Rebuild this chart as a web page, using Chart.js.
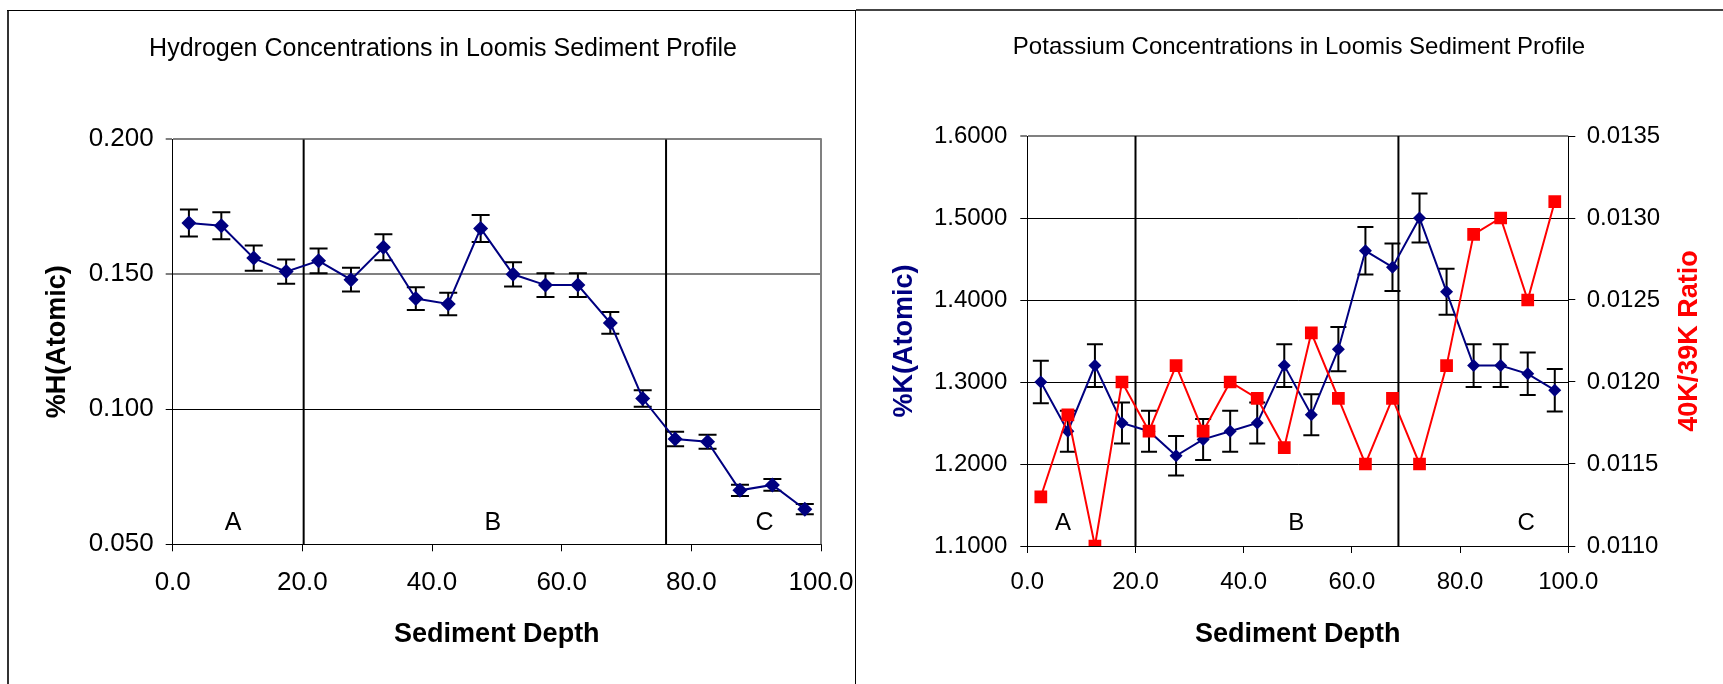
<!DOCTYPE html>
<html>
<head>
<meta charset="utf-8">
<script src="https://cdn.jsdelivr.net/npm/chart.js@4.4.1/dist/chart.umd.min.js"></script>
<style>
body { margin: 0; background: #fff; width: 1723px; height: 684px; overflow: hidden; position: relative; }
.ln { position: absolute; }
canvas { position: absolute; }
</style>
</head>
<body>
<div class="ln" style="left:7px;top:10px;width:2px;height:674px;background:#333"></div>
<div class="ln" style="left:7px;top:10px;width:849px;height:1px;background:#000"></div>
<div class="ln" style="left:855px;top:10px;width:1px;height:674px;background:#000"></div>
<div class="ln" style="left:856px;top:9px;width:867px;height:2px;background:#444"></div>
<canvas id="hChart" width="846" height="673" style="left:9px;top:11px"></canvas>
<canvas id="kChart" width="867" height="673" style="left:856px;top:11px"></canvas>
<script>
// depth of each sample (x axis)
const depth = [2.5, 7.5, 12.5, 17.5, 22.5, 27.5, 32.5, 37.5, 42.5, 47.5,
               52.5, 57.5, 62.5, 67.5, 72.5, 77.5, 82.5, 87.5, 92.5, 97.5];

// hydrogen chart
const hydrogen = [0.169, 0.168, 0.156, 0.151, 0.155, 0.148, 0.160, 0.141, 0.139, 0.167,
                  0.150, 0.146, 0.146, 0.132, 0.104, 0.089, 0.088, 0.070, 0.072, 0.063];
const hydrogenErr = [0.0050, 0.0050, 0.0047, 0.0045, 0.0046, 0.0044, 0.0048, 0.0042, 0.0042, 0.0050,
                     0.0045, 0.0044, 0.0044, 0.0040, 0.0031, 0.0027, 0.0026, 0.0021, 0.0022, 0.0019];
const hTicks = [0.050, 0.100, 0.150, 0.200];
const hBounds = [20.2, 76.1];
const hZoneX = [9.3, 49.4, 91.3];
const hZoneY = 0.058;

// potassium chart
const potassium = [1.30, 1.24, 1.32, 1.25, 1.24, 1.21, 1.23, 1.24, 1.25, 1.32,
                   1.26, 1.34, 1.46, 1.44, 1.50, 1.41, 1.32, 1.32, 1.31, 1.29];
const potassiumErr = [0.026, 0.025, 0.026, 0.025, 0.025, 0.024, 0.025, 0.025, 0.025, 0.026,
                      0.025, 0.027, 0.029, 0.029, 0.030, 0.028, 0.026, 0.026, 0.026, 0.026];
const ratio = [0.0113, 0.0118, 0.0110, 0.0120, 0.0117, 0.0121, 0.0117, 0.0120, 0.0119, 0.0116,
               0.0123, 0.0119, 0.0115, 0.0119, 0.0115, 0.0121, 0.0129, 0.0130, 0.0125, 0.0131];
const kTicks = [1.1, 1.2, 1.3, 1.4, 1.5, 1.6];
const rTicks = [0.0110, 0.0115, 0.0120, 0.0125, 0.0130, 0.0135];
const kBounds = [20.0, 68.6];
const kZoneX = [6.6, 49.7, 92.2];
const kZoneY = 1.128;

const depthTicks = [0, 20, 40, 60, 80, 100];
const zoneNames = ['A', 'B', 'C'];

const FONT = '"Liberation Sans", Arial, sans-serif';
const NAVY = '#000080';
const RED = '#ff0000';

function pts(ys) {
    return depth.map((d, i) => ({ x: d, y: ys[i] }));
}

function boundary(x, lo, hi) {
    return {
        data: [{ x: x, y: lo }, { x: x, y: hi }],
        borderColor: '#000', borderWidth: 2, pointRadius: 0, order: 10
    };
}

let errorBars = {
    id: 'errorBars',
    beforeDatasetsDraw(chart) {
        let ctx = chart.ctx;
        chart.data.datasets.forEach(function (ds, i) {
            if (!ds.errors) return;
            let meta = chart.getDatasetMeta(i);
            let ys = chart.scales[meta.yAxisID];
            ctx.save();
            ctx.strokeStyle = '#000';
            ctx.lineWidth = 2;
            meta.data.forEach(function (pt, j) {
                let v = ds.data[j].y, e = ds.errors[j], w = ds.capWidth;
                let top = ys.getPixelForValue(v + e), bot = ys.getPixelForValue(v - e);
                ctx.beginPath();
                ctx.moveTo(pt.x, top); ctx.lineTo(pt.x, bot);
                ctx.moveTo(pt.x - w, top); ctx.lineTo(pt.x + w, top);
                ctx.moveTo(pt.x - w, bot); ctx.lineTo(pt.x + w, bot);
                ctx.stroke();
            });
            ctx.restore();
        });
    }
};

let extras = {
    id: 'extras',
    beforeDatasetsDraw(chart, args, opts) {
        let a = chart.chartArea, ctx = chart.ctx;
        if (opts.rightFrame) {
            ctx.save();
            ctx.strokeStyle = '#808080';
            ctx.lineWidth = 2;
            ctx.beginPath();
            ctx.moveTo(a.right, a.top - 1);
            ctx.lineTo(a.right, a.bottom);
            ctx.stroke();
            ctx.restore();
        }
    },
    afterDatasetsDraw(chart, args, opts) {
        let ctx = chart.ctx;
        ctx.save();
        ctx.fillStyle = '#000';
        ctx.font = opts.zoneSize + 'px ' + FONT;
        ctx.textAlign = 'center';
        ctx.textBaseline = 'middle';
        zoneNames.forEach(function (n, i) {
            ctx.fillText(n, chart.scales.x.getPixelForValue(opts.zoneX[i]), chart.scales.y.getPixelForValue(opts.zoneY));
        });
        ctx.restore();
        if (opts.sideTitle) {
            let s = chart.scales.y2, a = chart.chartArea;
            ctx.save();
            ctx.fillStyle = opts.sideColor;
            ctx.font = 'bold 27px ' + FONT;
            ctx.textAlign = 'center';
            ctx.textBaseline = 'middle';
            ctx.translate(s.right - 33, (a.top + a.bottom) / 2);
            ctx.rotate(-Math.PI / 2);
            ctx.fillText(opts.sideTitle, 0, 0);
            ctx.restore();
        }
    }
};

let depthAxis = function (tickSize, tickPad, height) {
    return {
        type: 'linear', min: depthTicks[0], max: depthTicks[depthTicks.length - 1],
        afterFit: function (s) {
            s.height = height;
            s.paddingLeft = 0;
            s.paddingRight = 0;
        },
        ticks: {
            stepSize: 20, color: '#000', padding: tickPad,
            font: { family: FONT, size: tickSize },
            callback: v => v.toFixed(1)
        },
        grid: { drawOnChartArea: false, tickLength: 7, tickColor: '#000', tickWidth: 1 },
        border: { color: '#000', width: 1 },
        title: {
            display: true, text: 'Sediment Depth', color: '#000',
            font: { family: FONT, size: 27, weight: 'bold' },
            padding: { top: 0, bottom: 32.8 }
        }
    };
};

let hydrogenChartDraw = function () {
    let ctx = document.getElementById('hChart').getContext('2d');
    new Chart(ctx, {
        type: 'line',
        data: {
            datasets: [
                {
                    data: pts(hydrogen), errors: hydrogenErr, capWidth: 9,
                    borderColor: NAVY, backgroundColor: NAVY, borderWidth: 2,
                    pointStyle: 'rectRot', pointRadius: 7.5, pointBorderWidth: 0, order: 0
                },
                boundary(hBounds[0], hTicks[0], hTicks[hTicks.length - 1]),
                boundary(hBounds[1], hTicks[0], hTicks[hTicks.length - 1])
            ]
        },
        options: {
            responsive: false,
            animation: false,
            layout: { padding: { left: 22, right: 0, top: 0, bottom: 0 } },
            plugins: {
                legend: { display: false },
                tooltip: { enabled: false },
                title: {
                    display: true, text: 'Hydrogen Concentrations in Loomis Sediment Profile',
                    color: '#000', font: { family: FONT, size: 25, weight: 'normal' },
                    padding: { top: 23, bottom: 75.3 }
                },
                extras: { rightFrame: true, zoneX: hZoneX, zoneY: hZoneY, zoneSize: 25 }
            },
            scales: {
                x: depthAxis(26, 16, 139.7),
                y: {
                    type: 'linear', min: hTicks[0], max: hTicks[hTicks.length - 1],
                    afterFit: function (s) { s.width = 141.7; },
                    ticks: {
                        stepSize: 0.05, color: '#000', padding: 12,
                        font: { family: FONT, size: 26 },
                        callback: v => v.toFixed(3)
                    },
                    grid: {
                        color: c => Math.abs(c.tick.value - 0.1) < 1e-9 || Math.abs(c.tick.value - 0.05) < 1e-9 ? '#000' : '#808080',
                        lineWidth: c => Math.abs(c.tick.value - 0.1) < 1e-9 || Math.abs(c.tick.value - 0.05) < 1e-9 ? 1 : 2,
                        tickLength: 7, tickColor: '#000', tickWidth: 1
                    },
                    border: { color: '#000', width: 1 },
                    title: {
                        display: true, text: '%H(Atomic)', color: '#000',
                        font: { family: FONT, size: 27, weight: 'bold' },
                        padding: { top: 10.4, bottom: 0 }
                    }
                },
                pad: {
                    type: 'linear', position: 'right', display: true,
                    afterFit: function (s) { s.width = 34; },
                    ticks: { display: false }, grid: { display: false }, border: { display: false }
                }
            }
        },
        plugins: [errorBars, extras]
    });
};

let potassiumChartDraw = function () {
    let ctx = document.getElementById('kChart').getContext('2d');
    new Chart(ctx, {
        type: 'line',
        data: {
            datasets: [
                {
                    data: pts(ratio), yAxisID: 'y2',
                    borderColor: RED, backgroundColor: RED, borderWidth: 2,
                    pointStyle: 'rect', pointRadius: 9, pointBorderWidth: 0, order: 0
                },
                {
                    data: pts(potassium), yAxisID: 'y', errors: potassiumErr, capWidth: 8,
                    borderColor: NAVY, backgroundColor: NAVY, borderWidth: 2,
                    pointStyle: 'rectRot', pointRadius: 6.5, pointBorderWidth: 0, order: 1
                },
                boundary(kBounds[0], kTicks[0], kTicks[kTicks.length - 1]),
                boundary(kBounds[1], kTicks[0], kTicks[kTicks.length - 1])
            ]
        },
        options: {
            responsive: false,
            animation: false,
            layout: { padding: { left: 19, right: 0, top: 0, bottom: 0 } },
            plugins: {
                legend: { display: false },
                tooltip: { enabled: false },
                title: {
                    display: true, text: 'Potassium Concentrations in Loomis Sediment Profile',
                    color: '#000', font: { family: FONT, size: 24, weight: 'normal' },
                    padding: { top: 22, bottom: 74.2 }
                },
                extras: { zoneX: kZoneX, zoneY: kZoneY, zoneSize: 24, sideTitle: '40K/39K Ratio', sideColor: RED }
            },
            scales: {
                x: depthAxis(24, 15.4, 138),
                y: {
                    type: 'linear', min: kTicks[0], max: kTicks[kTicks.length - 1],
                    afterFit: function (s) { s.width = 152.3; },
                    ticks: {
                        stepSize: 0.1, color: '#000', padding: 13,
                        font: { family: FONT, size: 24 },
                        callback: v => v.toFixed(4)
                    },
                    grid: {
                        color: c => Math.abs(c.tick.value - 1.6) < 1e-9 ? '#808080' : '#000',
                        lineWidth: c => Math.abs(c.tick.value - 1.6) < 1e-9 ? 2 : 1,
                        tickLength: 7, tickColor: '#000', tickWidth: 1
                    },
                    border: { color: '#000', width: 1 },
                    title: {
                        display: true, text: '%K(Atomic)', color: NAVY,
                        font: { family: FONT, size: 27, weight: 'bold' },
                        padding: { top: 13.8, bottom: 0 }
                    }
                },
                y2: {
                    type: 'linear', position: 'right', min: rTicks[0], max: rTicks[rTicks.length - 1],
                    afterFit: function (s) { s.width = 154.7; },
                    ticks: {
                        stepSize: 0.0005, color: '#000', padding: 11.4,
                        font: { family: FONT, size: 24 },
                        callback: v => v.toFixed(4)
                    },
                    grid: { drawOnChartArea: false, tickLength: 7, tickColor: '#000', tickWidth: 1 },
                    border: { color: '#000', width: 1 }
                }
            }
        },
        plugins: [errorBars, extras]
    });
};

hydrogenChartDraw();
potassiumChartDraw();
</script>
</body>
</html>
